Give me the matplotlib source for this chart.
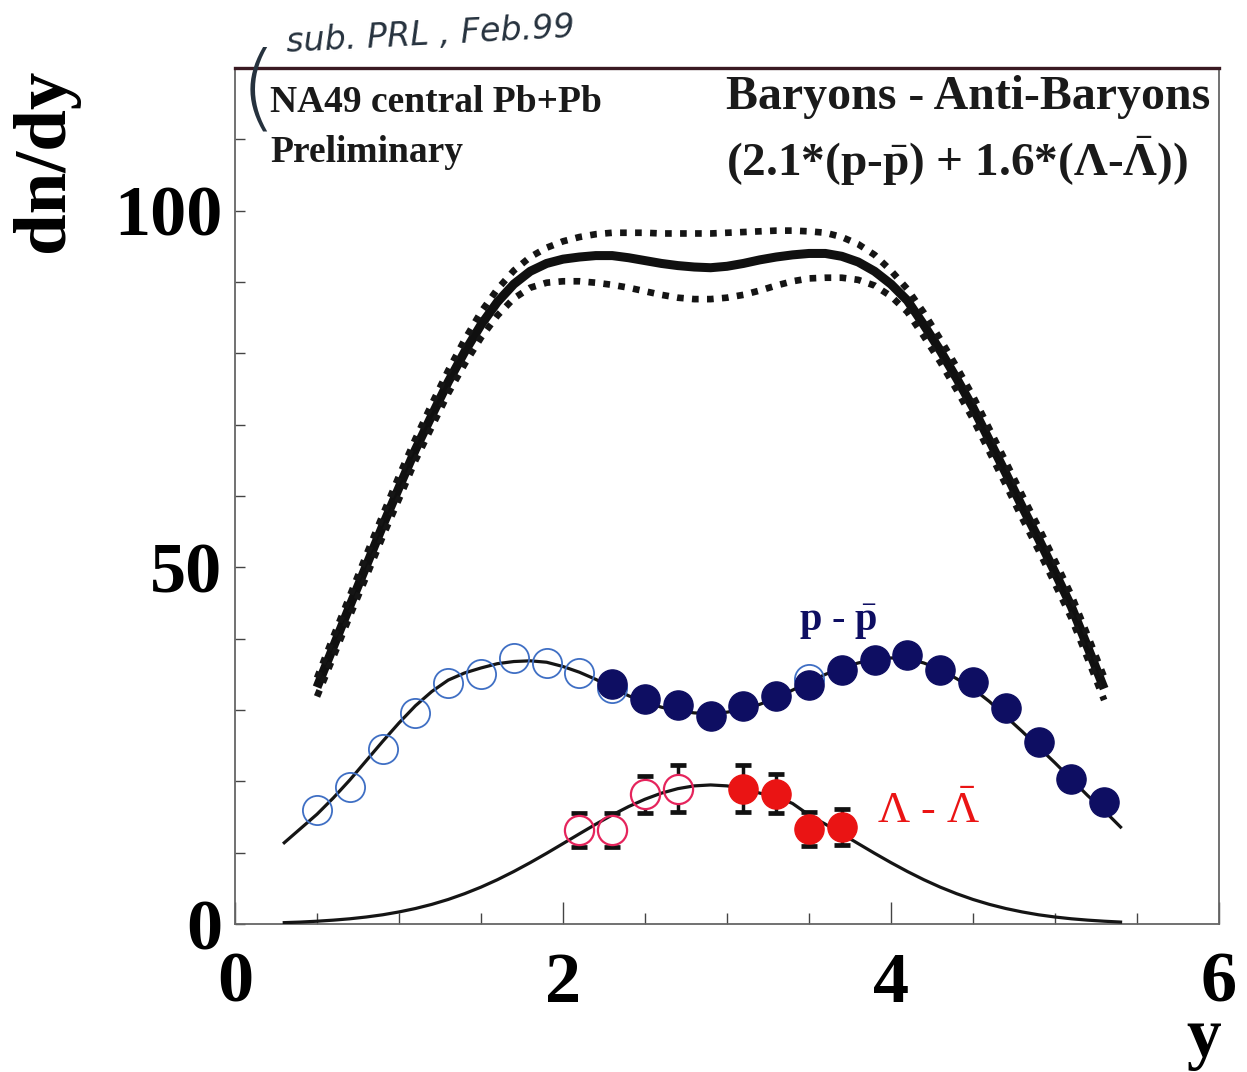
import numpy as np
import matplotlib
matplotlib.use("Agg")
import matplotlib.pyplot as plt
from matplotlib.ticker import MultipleLocator, FixedLocator

plt.rcParams['font.family'] = ['Liberation Serif', 'DejaVu Serif']
plt.rcParams['mathtext.fontset'] = 'custom'
plt.rcParams['mathtext.rm'] = 'Liberation Serif'
plt.rcParams['mathtext.it'] = 'Liberation Serif:italic'
plt.rcParams['mathtext.bf'] = 'Liberation Serif:bold'

# ---------------- data ----------------
# p - pbar (filled: measured, open: reflected)
pp_x = [2.3, 2.5, 2.7, 2.9, 3.1, 3.3, 3.5, 3.7, 3.9, 4.1, 4.3, 4.5, 4.7, 4.9, 5.1, 5.3]
pp_y = [33.6, 31.5, 30.7, 29.1, 30.5, 31.9, 33.5, 35.6, 37.0, 37.7, 35.6, 34.0, 30.3, 25.5, 20.4, 17.1]
pp_refl_x = [0.5, 0.7, 0.9, 1.1, 1.3, 1.5, 1.7, 1.9, 2.1, 2.3, 3.5]
pp_refl_y = [16.0, 19.2, 24.6, 29.6, 33.8, 35.0, 37.3, 36.6, 35.2, 33.1, 34.3]

# Lambda - Lambdabar
lam_x = [3.1, 3.3, 3.5, 3.7]
lam_y = [19.0, 18.3, 13.3, 13.6]
lam_err = [3.3, 2.7, 2.4, 2.5]
lam_refl_x = [2.1, 2.3, 2.5, 2.7]
lam_refl_y = [13.2, 13.2, 18.2, 19.0]
lam_refl_err = [2.4, 2.4, 2.6, 3.3]

# fit curves (step 0.1)
fit_x = [round(0.3 + 0.1 * i, 1) for i in range(52)]   # 0.3 ... 5.4
pp_fit = [11.4, 13.4, 15.4, 17.7, 20.2, 22.9, 25.6, 28.2, 30.6, 32.6,
          34.2, 35.2, 35.9, 36.5, 36.8, 36.9, 36.7, 36.1, 35.3, 34.3,
          33.1, 32.0, 31.1, 30.4, 29.9, 29.6, 29.5, 29.7, 30.1, 30.8,
          31.7, 32.8, 33.9, 35.0, 35.9, 36.6, 37.1, 37.3, 37.2, 36.6,
          35.7, 34.4, 33.0, 31.2, 29.1, 27.0, 24.8, 22.6, 20.3, 18.0,
          15.9, 13.6]
lam_fit = [0.20, 0.28, 0.40, 0.55, 0.74, 0.99, 1.30, 1.70, 2.18, 2.76,
           3.45, 4.26, 5.18, 6.22, 7.37, 8.61, 9.92, 11.28, 12.65, 14.0,
           15.29, 16.47, 17.50, 18.35, 18.98, 19.37, 19.5, 19.37, 18.98, 18.35,
           17.9, 16.9, 15.29, 14.0, 12.65, 11.28, 9.92, 8.61, 7.37, 6.22,
           5.18, 4.26, 3.45, 2.76, 2.18, 1.70, 1.30, 0.99, 0.74, 0.55,
           0.40, 0.28]

# total baryon - antibaryon (central + error band), step 0.1
tot_x = [round(0.5 + 0.1 * i, 1) for i in range(49)]   # 0.5 ... 5.3
tot_mid = [33.2, 38.9, 44.6, 50.2, 55.8, 61.2, 66.5, 71.3, 76.0, 80.2,
           84.0, 87.2, 89.7, 91.5, 92.6, 93.2, 93.5, 93.7, 93.7, 93.4,
           93.0, 92.6, 92.3, 92.1, 92.0, 92.2, 92.6, 93.1, 93.5, 93.8,
           94.0, 94.0, 93.6, 92.8, 91.5, 89.7, 87.4, 84.0, 80.4, 76.5,
           72.4, 67.8, 63.2, 58.5, 54.0, 49.3, 44.5, 38.8, 33.0]
tot_hi = [34.5, 40.3, 46.0, 51.7, 57.3, 62.8, 68.0, 72.9, 77.6, 81.9,
          85.8, 89.0, 91.6, 93.5, 94.8, 95.7, 96.3, 96.7, 96.9, 96.9,
          96.9, 96.8, 96.8, 96.8, 96.8, 96.9, 97.0, 97.1, 97.2, 97.2,
          97.1, 96.9, 96.3, 95.3, 93.8, 91.6, 89.0, 85.7, 82.0, 78.1,
          74.0, 69.4, 64.8, 60.1, 55.6, 50.9, 46.1, 40.4, 34.6]
tot_lo = [31.9, 37.5, 43.2, 48.7, 54.3, 59.6, 65.0, 69.7, 74.4, 78.5,
          82.2, 85.3, 87.7, 89.2, 89.9, 90.1, 90.1, 89.9, 89.6, 89.2,
          88.7, 88.2, 87.8, 87.6, 87.6, 87.8, 88.2, 88.8, 89.5, 90.1,
          90.5, 90.6, 90.6, 90.3, 89.5, 88.0, 85.8, 82.4, 78.8, 74.9,
          70.8, 66.2, 61.6, 56.9, 52.4, 47.7, 42.9, 37.2, 31.4]

x_ticks = [0, 2, 4, 6]
y_ticks = [0, 50, 100]

# ---------------- figure ----------------
fig = plt.figure(figsize=(12.47, 10.72), dpi=100)
ax = fig.add_axes([0.1885, 0.138, 0.789, 0.7986])
ax.set_xlim(0, 6)
ax.set_ylim(0, 120)

NAVY = '#0e0e62'
BLUE = '#3f6fc4'
RED = '#ea1414'
PINK = '#e5245c'

# thick total curves
ax.plot(tot_x, tot_mid, color='#101010', lw=6.5, solid_capstyle='butt', zorder=2)
for yy in (tot_hi, tot_lo):
    ax.plot(tot_x, yy, color='#151515', lw=4.8, linestyle=(0, (1.0, 1.25)),
            dash_capstyle='butt', zorder=2)

# Lambda error bars (below white-backed open markers)
ax.errorbar(lam_refl_x, lam_refl_y, yerr=lam_refl_err, fmt='none', ecolor='#111111',
            elinewidth=2.5, capsize=6, capthick=3.4, zorder=2.2)
ax.errorbar(lam_x, lam_y, yerr=lam_err, fmt='none', ecolor='#111111',
            elinewidth=2.5, capsize=6, capthick=3.4, zorder=2.2)
ax.plot(lam_refl_x, lam_refl_y, 'o', ms=21, mfc='white', mec='none', zorder=2.5)

# fit curves
ax.plot(fit_x, pp_fit, color='#151515', lw=2.3, zorder=3)
ax.plot(fit_x, lam_fit, color='#151515', lw=2.3, zorder=3)

# p - pbar points
ax.plot(pp_refl_x, pp_refl_y, 'o', ms=21, mfc='none', mec=BLUE, mew=1.3, zorder=4)
ax.plot(pp_x, pp_y, 'o', ms=21, mfc=NAVY, mec=NAVY, mew=1.0, zorder=5)

# Lambda points
ax.plot(lam_refl_x, lam_refl_y, 'o', ms=21, mfc='none', mec=PINK, mew=1.6, zorder=4)
ax.plot(lam_x, lam_y, 'o', ms=21, mfc=RED, mec=RED, mew=1.0, zorder=5)

# axes styling
ax.xaxis.set_major_locator(FixedLocator(x_ticks))
ax.xaxis.set_minor_locator(MultipleLocator(0.5))
ax.yaxis.set_major_locator(FixedLocator(y_ticks))
ax.yaxis.set_minor_locator(MultipleLocator(10))
ax.tick_params(axis='x', which='major', direction='in', length=16, width=1.0,
               color='#444444', pad=20, labelsize=52)
ax.tick_params(axis='x', which='minor', direction='in', length=8, width=1.0, color='#444444')
ax.tick_params(axis='y', which='both', direction='in', length=7, width=1.0,
               color='#444444', pad=9, labelsize=52)
for lab in ax.get_xticklabels() + ax.get_yticklabels():
    lab.set_fontweight('bold')

for s in ('left', 'bottom', 'right'):
    ax.spines[s].set_color('#666666')
    ax.spines[s].set_linewidth(1.3)
ax.spines['top'].set_color('#3a1a22')
ax.spines['top'].set_linewidth(2.4)

# axis titles
fig.text(0.036, 0.85, 'dn/dy', rotation=90, fontsize=54, fontweight='bold',
         ha='center', va='center')
fig.text(1204 / 1247, 1 - 1056 / 1072, 'y', fontsize=50, fontweight='bold',
         ha='center', va='baseline')

# in-plot texts
fig.text(270 / 1247, 1 - 112 / 1072, 'NA49 central Pb+Pb', fontsize=27,
         fontweight='bold', ha='left', va='baseline', color='#1a1a1a')
fig.text(270 / 1247, 1 - 162 / 1072, 'Preliminary', fontsize=27,
         fontweight='bold', ha='left', va='baseline', color='#1a1a1a')
fig.text(1210 / 1247, 1 - 109 / 1072, 'Baryons - Anti-Baryons', fontsize=34.5,
         fontweight='bold', ha='right', va='baseline', color='#1a1a1a')
fig.text(1188 / 1247, 1 - 176 / 1072,
         r'(2.1*(p-$\bar{\mathbf{p}}$) + 1.6*($\mathbf{\Lambda}$-$\bar{\mathbf{\Lambda}}$))',
         fontsize=34, fontweight='bold', ha='right', va='baseline', color='#1a1a1a')

ax.text(3.68, 42.3, r'p - $\bar{\mathbf{p}}$', fontsize=29, fontweight='bold', color=NAVY,
        ha='center', va='center')
ax.text(4.23, 15.7, r'$\Lambda$ - $\bar{\Lambda}$', fontsize=32, color=RED,
        ha='center', va='center')

# handwritten note
fig.text(430 / 1247, 1 - 35 / 1072, 'sub. PRL , Feb.99', fontsize=24,
         family='DejaVu Sans', style='italic', fontweight='normal',
         color='#26323e', rotation=3, ha='center', va='center')
fig.text(258 / 1247, 1 - 92 / 1072, '(', fontsize=68, family='DejaVu Sans',
         fontweight='light', color='#26323e', ha='center', va='center')

fig.savefig('out.png', dpi=100)
